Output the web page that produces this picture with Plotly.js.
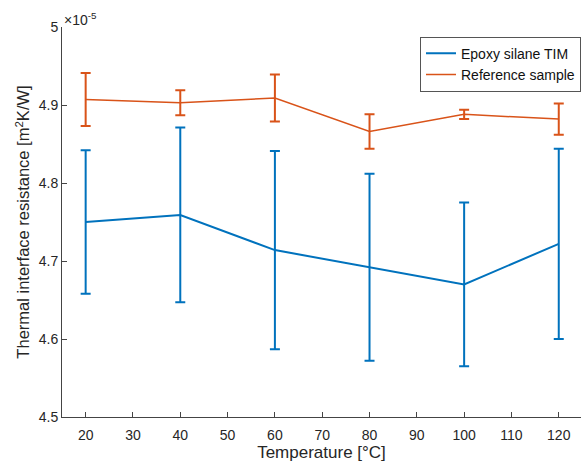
<!DOCTYPE html>
<html><head><meta charset="utf-8">
<script src="https://cdn.plot.ly/plotly-3.0.1.min.js"></script>
<style>body{margin:0;background:#fff}#c{width:581px;height:469px}</style>
</head><body><div id="c"></div>
<script>
var temps = [20, 40, 60, 80, 100, 120];
var epoxy = [4.750, 4.759, 4.714, 4.692, 4.670, 4.722];
var epoxyErr = [0.092, 0.112, 0.127, 0.120, 0.105, 0.122];
var refer = [4.907, 4.903, 4.909, 4.866, 4.888, 4.882];
var referErr = [0.034, 0.016, 0.030, 0.022, 0.006, 0.020];
var yTicks = [4.5, 4.6, 4.7, 4.8, 4.9, 5];
var xTicks = [20, 30, 40, 50, 60, 70, 80, 90, 100, 110, 120];

var traces = [
  {x: temps, y: epoxy, name: 'Epoxy silane TIM', type: 'scatter', mode: 'lines',
   line: {color: '#0072BD', width: 2},
   error_y: {type: 'data', array: epoxyErr, visible: true, color: '#0072BD', thickness: 2, width: 5}},
  {x: temps, y: refer, name: 'Reference sample', type: 'scatter', mode: 'lines',
   line: {color: '#D95319', width: 1.5},
   error_y: {type: 'data', array: referErr, visible: true, color: '#D95319', thickness: 2, width: 5}}
];
var layout = {
  width: 581, height: 469,
  margin: {l: 62, r: 0, t: 27, b: 52},
  paper_bgcolor: '#fff', plot_bgcolor: '#fff',
  font: {family: 'Liberation Sans, Arial, sans-serif', color: '#262626', size: 14},
  showlegend: true,
  legend: {x: 1, xanchor: 'right', y: 0.975, yanchor: 'top', bgcolor: '#fff',
           bordercolor: '#555', borderwidth: 1, font: {size: 14, color: '#111'},
           tracegroupgap: 0},
  xaxis: {range: [15, 124.7], tickvals: xTicks, ticks: 'inside', ticklen: 5, tickcolor: '#444',
          showline: true, linecolor: '#444', linewidth: 1, showgrid: false, zeroline: false,
          ticklabelstandoff: 5,
          title: {text: 'Temperature [°C]', font: {size: 17}, standoff: 4}},
  yaxis: {range: [4.5, 5], tickvals: yTicks, ticktext: ['4.5','4.6','4.7','4.8','4.9','5'],
          ticks: 'inside', ticklen: 5, tickcolor: '#444',
          showline: true, linecolor: '#444', linewidth: 1, showgrid: false, zeroline: false,
          title: {text: 'Thermal interface resistance [m<sup>2</sup>K/W]', font: {size: 16.5}, standoff: 4}},
  annotations: [{xref: 'paper', yref: 'paper', x: 0, y: 1, xanchor: 'left', yanchor: 'bottom',
                 text: '×10<sup>-5</sup>', showarrow: false, font: {size: 14, color: '#262626'}, yshift: -3}]
};
Plotly.newPlot('c', traces, layout, {displayModeBar: false, staticPlot: true});
</script></body></html>
